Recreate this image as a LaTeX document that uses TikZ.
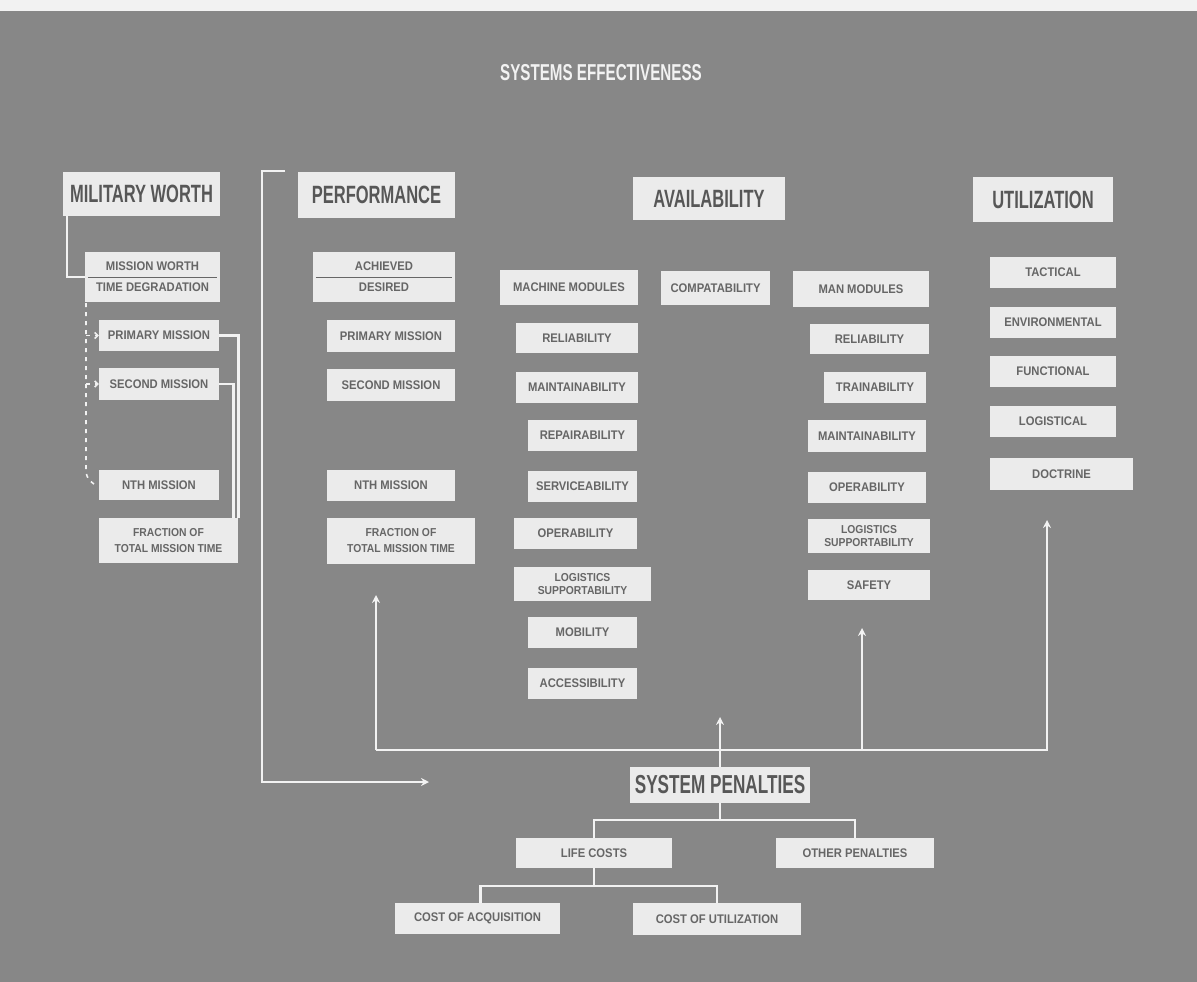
\documentclass[tikz,border=0pt]{standalone}
\usepackage{fontspec}
\setmainfont{Liberation Sans}
\newfontfamily\boxfont[FakeStretch=0.9]{Liberation Sans}
\newfontfamily\headfont[FakeStretch=0.66]{Liberation Sans}
\usetikzlibrary{arrows.meta}

\definecolor{board}{gray}{0.53}
\definecolor{cardfill}{gray}{0.92}
\definecolor{ink}{gray}{0.40}
\definecolor{chalk}{gray}{0.95}

\tikzset{
  card/.style={fill=cardfill, draw=none, inner sep=0pt, align=center, text=ink,
    font=\boxfont\bfseries\fontsize{12.5}{14}\selectfont},
  twoline/.style={card, font=\boxfont\bfseries\fontsize{11.5}{16}\selectfont},
  head/.style={card, text=ink!85!black,
    font=\headfont\bfseries\fontsize{25}{27}\selectfont},
  wire/.style={draw=chalk, line width=2.6pt},
  tip/.style={wire, -{Stealth[length=8pt,width=8pt]}},
  dots/.style={draw=chalk, line width=1.6pt, dash pattern=on 4pt off 5pt},
  dottip/.style={dots, -{Straight Barb[length=3pt,width=6pt]}},
  rule/.style={draw=ink, line width=1pt},
}

\begin{document}
\begin{tikzpicture}[x=1pt,y=-1pt]
\useasboundingbox (0,0) rectangle (1197,982);
\fill[board] (0,0) rectangle (1197,982);
\fill[white!95!black] (0,0) rectangle (1197,11);

% title
\node[text=chalk, font=\headfont\bfseries\fontsize{23}{25}\selectfont] (title) at (601,73) {SYSTEMS EFFECTIVENESS};

% column headings
\node[head, minimum width=157, minimum height=44] (mw)    at (141.5,194)   {MILITARY WORTH};
\node[head, minimum width=157, minimum height=46] (perf)  at (376.5,195)   {PERFORMANCE};
\node[head, minimum width=152, minimum height=43] (avail) at (709,198.5)   {AVAILABILITY};
\node[head, minimum width=140, minimum height=45] (util)  at (1043,199.5)  {UTILIZATION};

% military worth column
\node[card, minimum width=135, minimum height=50] (mwtd) at (152.5,277) {MISSION WORTH\\[7pt]TIME DEGRADATION};
\draw[rule] ([xshift=3pt]mwtd.west) -- ([xshift=-3pt]mwtd.east);
\node[card, minimum width=120, minimum height=31] (p1) at (159,335.5) {PRIMARY MISSION};
\node[card, minimum width=120, minimum height=32] (p2) at (159,384)   {SECOND MISSION};
\node[card, minimum width=120, minimum height=30] (pn) at (159,485)   {NTH MISSION};
\node[twoline, minimum width=139, minimum height=45] (pf) at (168.5,540.5) {FRACTION OF\\TOTAL MISSION TIME};

% performance column
\node[card, minimum width=142, minimum height=50] (ad) at (384,277) {ACHIEVED\\[7pt]DESIRED};
\draw[rule] ([xshift=3pt]ad.west) -- ([xshift=-3pt]ad.east);
\node[card, minimum width=128, minimum height=32] (q1) at (391,336)   {PRIMARY MISSION};
\node[card, minimum width=128, minimum height=32] (q2) at (391,385)   {SECOND MISSION};
\node[card, minimum width=128, minimum height=31] (qn) at (391,485.5) {NTH MISSION};
\node[twoline, minimum width=148, minimum height=46] (qf) at (401,541) {FRACTION OF\\TOTAL MISSION TIME};

% availability: machine modules
\node[card, minimum width=138, minimum height=35] (mm) at (569,287.5) {MACHINE MODULES};
\node[card, minimum width=122, minimum height=30] (m1) at (577,338)   {RELIABILITY};
\node[card, minimum width=122, minimum height=31] (m2) at (577,387.5) {MAINTAINABILITY};
\node[card, minimum width=109, minimum height=31] (m3) at (582.5,435.5) {REPAIRABILITY};
\node[card, minimum width=109, minimum height=31] (m4) at (582.5,486.5) {SERVICEABILITY};
\node[card, minimum width=123, minimum height=31] (m5) at (575.5,533.5) {OPERABILITY};
\node[twoline, font=\boxfont\bfseries\fontsize{11.5}{13}\selectfont, minimum width=137, minimum height=34] (m6) at (582.5,584) {LOGISTICS\\SUPPORTABILITY};
\node[card, minimum width=109, minimum height=31] (m7) at (582.5,632.5) {MOBILITY};
\node[card, minimum width=109, minimum height=31] (m8) at (582.5,683.5) {ACCESSIBILITY};
\node[card, minimum width=109, minimum height=34] (comp) at (715.5,288) {COMPATABILITY};

% availability: man modules
\node[card, minimum width=136, minimum height=36] (man) at (861,289)  {MAN MODULES};
\node[card, minimum width=119, minimum height=30] (n1) at (869.5,339) {RELIABILITY};
\node[card, minimum width=102, minimum height=31] (n2) at (875,387.5) {TRAINABILITY};
\node[card, minimum width=118, minimum height=32] (n3) at (867,436)   {MAINTAINABILITY};
\node[card, minimum width=118, minimum height=31] (n4) at (867,487.5) {OPERABILITY};
\node[twoline, font=\boxfont\bfseries\fontsize{11.5}{13}\selectfont, minimum width=122, minimum height=34] (n5) at (869,536) {LOGISTICS\\SUPPORTABILITY};
\node[card, minimum width=122, minimum height=30] (n6) at (869,585)   {SAFETY};

% utilization column
\node[card, minimum width=126, minimum height=31] (u1) at (1053,272.5) {TACTICAL};
\node[card, minimum width=126, minimum height=31] (u2) at (1053,322.5) {ENVIRONMENTAL};
\node[card, minimum width=126, minimum height=31] (u3) at (1053,371.5) {FUNCTIONAL};
\node[card, minimum width=126, minimum height=31] (u4) at (1053,421.5) {LOGISTICAL};
\node[card, minimum width=143, minimum height=32] (u5) at (1061.5,474) {DOCTRINE};

% penalties tree
\node[head, font=\headfont\bfseries\fontsize{26}{28}\selectfont, minimum width=180, minimum height=36] (sp) at (720,785) {SYSTEM PENALTIES};
\node[card, minimum width=156, minimum height=30] (lc) at (594,853)   {LIFE COSTS};
\node[card, minimum width=158, minimum height=30] (op) at (855,853)   {OTHER PENALTIES};
\node[card, minimum width=165, minimum height=31] (ca) at (477.5,918.5) {COST OF ACQUISITION};
\node[card, minimum width=168, minimum height=32] (cu) at (717,919)   {COST OF UTILIZATION};

% military worth links
\draw[wire] ([xshift=4pt]mw.south west) |- (mwtd.west);
\coordinate (dtop) at (86,303);
\coordinate (dbot) at (86,470);
\draw[dots] (dtop) -- (dbot) to[out=-90,in=180] (pn.west);
\draw[dottip] (dtop |- p1.west) -- (p1.west);
\draw[dottip] (dtop |- p2.west) -- (p2.west);
\draw[wire] (p1.east) -| (pf.north east);
\draw[wire] (p2.east) -| ([xshift=-5pt]pf.north east);

% long return arrow
\coordinate (ptop) at (285,171);
\coordinate (pend) at (429,782);
\draw[tip] (ptop) -- ++(-23,0) |- (pend);

% bottom bracket
\coordinate (bl) at (376,750);
\coordinate (ptip) at (376,595);
\coordinate (stip) at (862,628);
\coordinate (utip) at (1047,520);
\coordinate (atip) at (720,717);
\draw[tip] (bl) -- (ptip);
\draw[tip] (bl) -| (utip);
\draw[tip] (stip |- bl) -- (stip);
\draw[tip] (sp.north) -- (atip);

% penalty tree links
\coordinate (sj) at (720,820);
\draw[wire] (sp.south) -- (sj);
\draw[wire] (lc.north) |- (sj) -| (op.north);
\coordinate (lj) at (594,886);
\draw[wire] (lc.south) -- (lj);
\draw[wire] ([xshift=3pt]ca.north) |- (lj) -| (cu.north);
\end{tikzpicture}
\end{document}
